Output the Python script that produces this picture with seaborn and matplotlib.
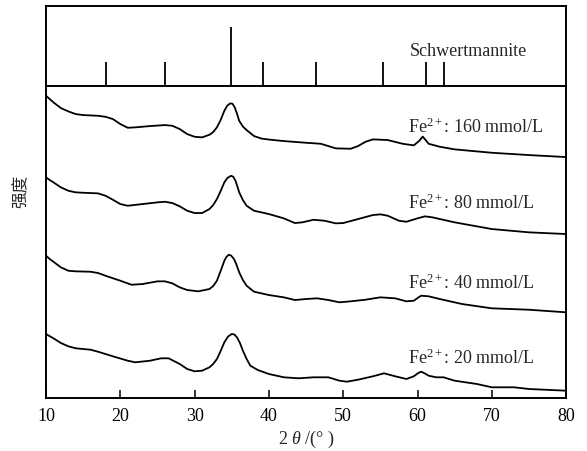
import matplotlib
matplotlib.use("Agg")
import matplotlib.pyplot as plt
import numpy as np
import pandas as pd
import seaborn as sns

# Schwertmannite reference sticks
stick_pos = [18.1, 26.0, 34.9, 39.2, 46.4, 55.3, 61.2, 63.6]
stick_h = [0.30, 0.30, 0.74, 0.30, 0.30, 0.30, 0.30, 0.30]

# XRD patterns (offset intensity, a.u.)
tt_160 = [10.0, 10.5, 11, 12, 13, 14, 15, 17, 18, 19, 20, 21, 22, 24, 26, 27, 28,
          29, 30, 31, 32, 32.5, 33, 33.5, 34, 34.4, 34.8, 35.1, 35.4, 35.7, 36,
          36.5, 37, 38, 39, 40, 42, 45, 47, 48, 49, 51, 52, 53, 54, 56, 58, 59.5,
          60.2, 60.7, 61.1, 61.5, 63, 65, 70, 75, 80]
i_160 = [303.3, 300, 296.7, 291, 287.7, 285, 284, 283.3, 282.3, 280, 275, 271.3,
         271.7, 273, 274, 273.3, 270, 265, 262.3, 261.7, 264.3, 267, 271.7, 279,
         288.3, 293.5, 295.7, 295.3, 291.7, 285.5, 278.3, 272.5, 269, 263, 260.5,
         259.5, 258, 256.3, 255.3, 253, 250.7, 250.3, 253, 257.3, 259.7, 259,
         255.3, 253.7, 258, 262.5, 259, 255.3, 252.3, 249.7, 246.3, 244, 242]

tt_80 = [10.0, 10.5, 11, 12, 13, 14, 15, 17, 18, 19, 20, 21, 23, 25, 26, 27, 28,
         29, 30, 31, 32, 32.5, 33, 33.5, 34, 34.4, 34.9, 35.2, 35.5, 35.8, 36,
         36.5, 37, 38, 40, 42, 43.5, 44.5, 46, 47.5, 49, 50, 52, 54, 55, 56, 57.5,
         58.5, 60, 61, 62, 65, 70, 75, 80]
i_80 = [221.7, 219, 216.7, 211.7, 208.3, 206.7, 206.3, 205.7, 203.3, 199.3, 195,
        193.3, 195, 196.7, 197.3, 196, 192.7, 188.3, 186, 186, 190, 194, 200, 208,
        216.7, 221, 223.3, 222.3, 218.3, 211.5, 206.7, 199, 193.3, 188.3, 185,
        180.7, 176, 176.7, 179.3, 178.3, 175.7, 176, 180, 184, 184.7, 183.3,
        178.3, 177.3, 180.7, 182.7, 181.7, 176.7, 170, 166.7, 165]

tt_40 = [10.0, 10.5, 11, 12, 13, 14, 16, 17, 18, 20, 21.5, 23, 25, 26, 27, 28, 29,
         30.5, 32, 32.5, 33, 33.5, 34, 34.3, 34.6, 34.9, 35.3, 35.6, 36, 36.5, 37,
         38, 40, 42, 43.5, 45, 46.5, 48, 49.5, 51, 53, 55, 57, 58.5, 59.5, 60.1,
         60.5, 61.5, 63, 66, 70, 75, 80]
i_40 = [143.3, 140, 137.3, 131.7, 128.3, 127.7, 127.3, 126, 123.3, 118.3, 114.3,
        115, 117.7, 117.7, 115.7, 111.7, 109, 107.7, 110, 113, 118.3, 128, 138.3,
        142.3, 144.3, 143.5, 140, 135, 126.7, 119, 113.3, 107.3, 104, 101.7, 99,
        100, 100.7, 99, 96.7, 97.7, 99.3, 101.7, 100.7, 97.7, 98.3, 101.5, 103.3,
        102.7, 100, 95, 90.7, 89.3, 86.7]

tt_20 = [10.0, 10.5, 11, 12, 13, 14, 16, 17, 19, 21, 22, 24, 25.5, 26.5, 28, 29,
         30, 31, 32, 32.5, 33, 33.5, 34, 34.5, 35, 35.35, 35.7, 36.1, 36.5, 37,
         37.5, 38.5, 40, 42, 44, 46, 48, 49.5, 50.5, 52, 54, 55.5, 57, 58.5, 59.5,
         60.1, 60.5, 61, 61.5, 62.5, 63.5, 65, 68, 70, 73, 75, 80]
i_20 = [65, 62.8, 60.7, 56, 52.7, 50.7, 49.3, 47.3, 42.7, 38.3, 36.7, 38.3, 40.7,
        40.7, 35, 30, 27.7, 28.3, 31.7, 35, 40, 48, 56.7, 62.5, 65, 64.5, 61.7,
        56, 48.3, 40, 33.3, 29, 25, 21.7, 20.7, 21.7, 21.7, 18.3, 17.3, 19.3,
        22.7, 25.7, 22.7, 20, 22.7, 26, 27.3, 25.5, 23.3, 21.7, 21.7, 18.3, 15,
        11.7, 11.7, 10, 8.3]

labels = ["160", "80", "40", "20"]
label_y = [273, 197, 117, 42]

df = pd.concat([
    pd.DataFrame({"tt": tt_160, "I": i_160, "c": "160"}),
    pd.DataFrame({"tt": tt_80, "I": i_80, "c": "80"}),
    pd.DataFrame({"tt": tt_40, "I": i_40, "c": "40"}),
    pd.DataFrame({"tt": tt_20, "I": i_20, "c": "20"}),
])

sns.set_theme(style="white")
plt.rcParams["font.family"] = ["Liberation Serif", "Noto Sans CJK SC", "DejaVu Sans"]
plt.rcParams["mathtext.fontset"] = "custom"
plt.rcParams["mathtext.rm"] = "Liberation Serif"
plt.rcParams["mathtext.it"] = "Liberation Serif:italic"

fig = plt.figure(figsize=(5.87, 4.52), dpi=100)
ax_top = fig.add_axes([0.0784, 0.808, 0.886, 0.176])
ax = fig.add_axes([0.0784, 0.1166, 0.886, 0.6914])

# sticks
ax_top.vlines(stick_pos, 0, stick_h, color="black", lw=1.3)
ax_top.set_xlim(10, 80)
ax_top.set_ylim(0, 1)
ax_top.set_xticks([])
ax_top.set_yticks([])
ax_top.text(59.0, 0.44, "Schwertmannite", fontsize=13, ha="left", va="center")

# patterns
sns.lineplot(data=df, x="tt", y="I", hue="c", palette=["black"] * 4,
             estimator=None, sort=False, legend=False, lw=1.3, ax=ax)
for lab, y in zip(labels, label_y):
    ax.text(58.7, y, "Fe$^{2+}$: " + lab + " mmol/L", fontsize=13,
            ha="left", va="center")

ax.set_xlim(10, 80)
ax.set_ylim(0.7, 313.3)
ax.set_yticks([])
ax.set_xticks(np.arange(10, 81, 10))
ax.tick_params(axis="x", direction="in", length=5.5, width=1.1, pad=6,
               labelsize=13, colors="black", bottom=True)
ax.set_xlabel("2 $\\theta$ /(° )", fontsize=13, labelpad=3)
ax.set_ylabel("")

for a in (ax_top, ax):
    for s in a.spines.values():
        s.set_visible(True)
        s.set_color("black")
        s.set_linewidth(1.4)

fig.text(0.036, 0.577, "强度", rotation=90, ha="center", va="center",
         fontsize=12, family=["Noto Sans CJK SC", "DejaVu Sans"])

fig.savefig("out.png", dpi=100)
